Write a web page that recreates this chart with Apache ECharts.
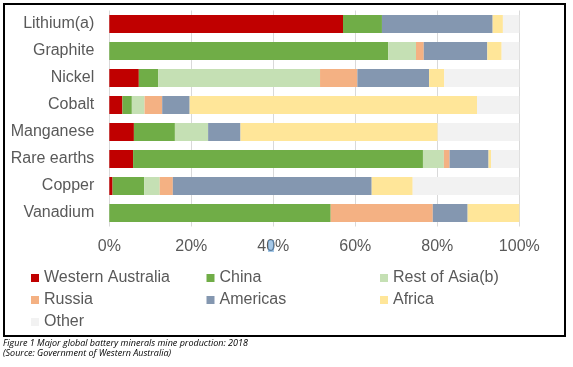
<!DOCTYPE html>
<html>
<head>
<meta charset="utf-8">
<script src="https://cdn.jsdelivr.net/npm/echarts@6/dist/echarts.min.js"></script>
<style>
html,body{margin:0;padding:0;background:#fff;}
#chart{width:573px;height:367px;}
</style>
</head>
<body>
<div id="chart"></div>
<script>
const categories = ['Lithium(a)', 'Graphite', 'Nickel', 'Cobalt', 'Manganese', 'Rare earths', 'Copper', 'Vanadium'];
const westernAustralia = [57.0, 0, 7.2, 3.2, 6.0, 5.8, 0.8, 0];
const china            = [9.5, 68.0, 4.7, 2.3, 10.0, 70.7, 7.7, 54.0];
const restOfAsia       = [0, 6.8, 39.5, 3.1, 8.1, 5.1, 3.8, 0];
const russia           = [0, 1.9, 9.1, 4.3, 0, 1.4, 3.2, 24.9];
const americas         = [27.0, 15.5, 17.5, 6.7, 7.9, 9.5, 48.5, 8.5];
const africa           = [2.5, 3.5, 3.7, 70.1, 48.1, 0.6, 10.0, 12.6];
const other            = [4.0, 4.3, 18.3, 10.3, 19.9, 6.9, 26.0, 0];
const seriesNames = ['Western Australia', 'China', 'Rest of Asia(b)', 'Russia', 'Americas', 'Africa', 'Other'];
const xTicks = [0, 20, 40, 60, 80, 100];

const colors = ['#C00000', '#70AD47', '#C5E0B4', '#F4B183', '#8497B0', '#FFE699', '#F2F2F2'];
const dataSets = [westernAustralia, china, restOfAsia, russia, americas, africa, other];

const chart = echarts.init(document.getElementById('chart'), null, {renderer: 'canvas'});

const legendPos = [
  [31, 270], [206.5, 270], [380, 270],
  [31, 292], [206.5, 292], [380, 292],
  [31, 314]
];
const legends = seriesNames.map((n, i) => ({
  data: [n],
  left: legendPos[i][0],
  top: legendPos[i][1],
  itemWidth: 8,
  itemHeight: 8,
  icon: 'rect',
  padding: 0,
  textStyle: {fontFamily: 'Liberation Sans, Arial, sans-serif', fontSize: 16, color: '#595959'}
}));

const option = {
  animation: false,
  backgroundColor: '#fff',
  color: colors,
  legend: legends,
  grid: {left: 109.3, right: 53.7, top: 10.5, height: 216, containLabel: false},
  xAxis: {
    type: 'value',
    min: 0, max: 100, interval: 20,
    axisLine: {show: false},
    axisTick: {show: false},
    splitLine: {show: true, lineStyle: {color: '#D9D9D9', width: 1}},
    axisLabel: {
      formatter: v => v + '%',
      fontFamily: 'Liberation Sans, Arial, sans-serif', fontSize: 16, color: '#595959', margin: 12
    }
  },
  yAxis: {
    type: 'category',
    data: categories,
    inverse: true,
    axisLine: {show: false},
    axisTick: {show: false},
    axisLabel: {fontFamily: 'Liberation Sans, Arial, sans-serif', fontSize: 16, color: '#595959', margin: 15}
  },
  series: seriesNames.map((n, i) => ({
    name: n,
    type: 'bar',
    stack: 'total',
    barWidth: 18,
    data: dataSets[i],
    itemStyle: {color: colors[i]}
  })),
  graphic: [
    {type: 'rect', shape: {x: 4, y: 4, width: 561, height: 332}, style: {fill: 'none', stroke: '#000', lineWidth: 2}, z: 100},
    {type: 'rect', shape: {x: 268, y: 240, width: 6, height: 12}, style: {fill: 'rgba(91,155,213,0.55)'}, z: 100},
    {type: 'text', left: 3, top: 339, style: {text: 'Figure 1 Major global battery minerals mine production: 2018', font: 'italic 9px "Open Sans", sans-serif', fill: '#000'}},
    {type: 'text', left: 3, top: 349, style: {text: '(Source: Government of Western Australia)', font: 'italic 9px "Open Sans", sans-serif', fill: '#000'}}
  ]
};
chart.setOption(option);
</script>
</body>
</html>
